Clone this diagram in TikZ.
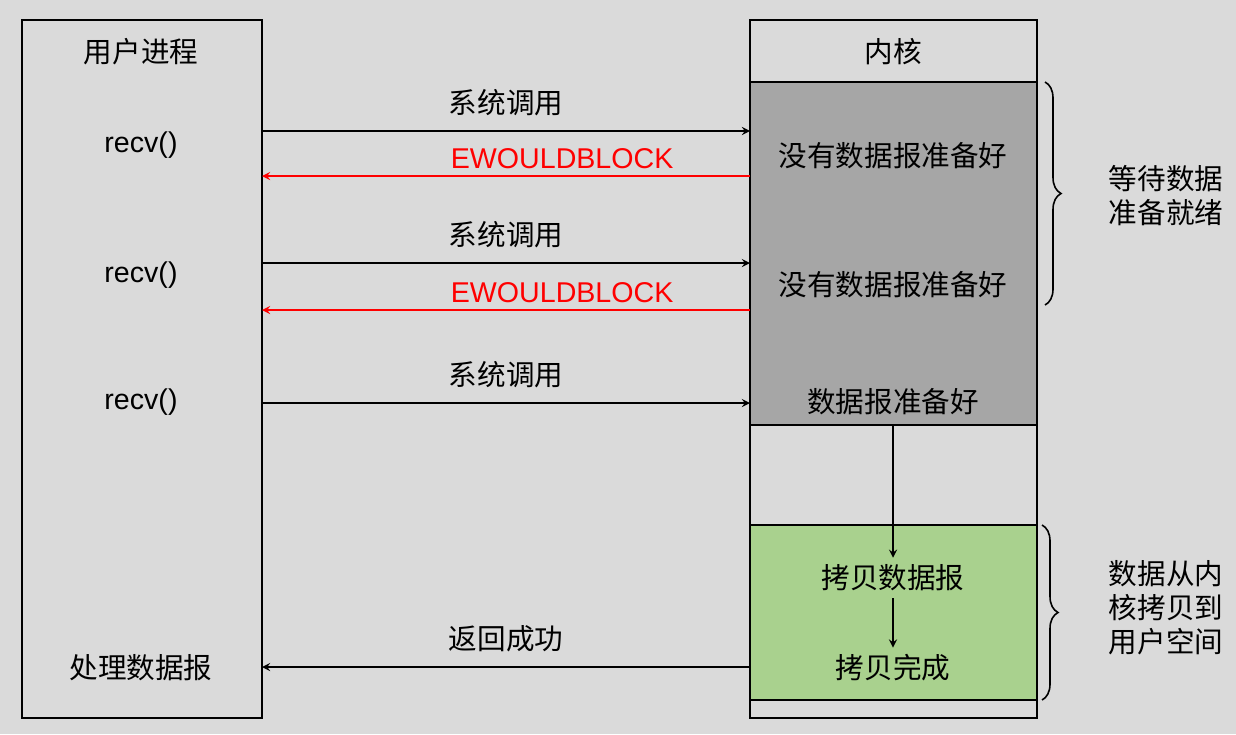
\documentclass[tikz,border=0pt]{standalone}
\usepackage{fontspec}
\setmainfont{Noto Sans CJK SC}
\newfontfamily\latin{Liberation Sans}
\usetikzlibrary{arrows,positioning,decorations.pathreplacing}
\definecolor{bggray}{HTML}{DADADA}
\definecolor{waitgray}{HTML}{A6A6A6}
\definecolor{copygreen}{HTML}{A9D18E}
\tikzset{
    >=stealth,
    lbl/.style={font=\fontsize{14.3}{17}\selectfont, align=center},
    lat/.style={font=\fontsize{14.3}{17}\selectfont\latin},
    call/.style={thick, ->, >=stealth},
    err/.style={thick, ->, >=stealth, red},
    box/.style={draw, thick},
}
\begin{document}
\begin{tikzpicture}[x=0.5pt, y=-0.5pt]
    % Rahmen
    \fill[bggray] (0,0) rectangle (1236,734);
    \useasboundingbox (0,0) rectangle (1236,734);
    \fill[waitgray] (750,82) rectangle (1037,425);
    \fill[copygreen] (750,525) rectangle (1037,700);
    \draw[box] (22,20) rectangle (262,718);
    \draw[box] (750,20) rectangle (1037,718);
    \draw[thick] (750,82) -- (1037,82);
    \draw[thick] (750,425) -- (1037,425);
    \draw[thick] (750,525) -- (1037,525);
    \draw[thick] (750,700) -- (1037,700);

    % Texte
    \node[lbl] (user) at (141,52) {用户进程};
    \node[lbl] (kern) at (893,52) {内核};
    \node[lat] (r1) at (141,145) {recv()};
    \node[lat] (r2) at (141,275) {recv()};
    \node[lat] (r3) at (141,402) {recv()};
    \node[lbl] (proc) at (141,668) {处理数据报};
    \node[lbl] (nd1) at (893,156) {没有数据报准备好};
    \node[lbl] (nd2) at (893,285) {没有数据报准备好};
    \node[lbl] (rdy) at (893,402) {数据报准备好};
    \node[lbl] (cp) at (893,578) {拷贝数据报};
    \node[lbl] (done) at (893,668) {拷贝完成};
    \node[lbl] (wait) at (1166,196) {等待数据\\准备就绪};
    \node[lbl] (copy) at (1166,608) {数据从内\\核拷贝到\\用户空间};

    % Pfeile
    \foreach \y/\t in {131/s1, 263/s2, 403/s3} {
        \coordinate (\t a) at (262,\y);
        \coordinate (\t b) at (750,\y);
        \draw[call] (\t a) -- (\t b) node[lbl, midway, above=4pt] {系统调用};
    }
    \foreach \y/\t in {176/e1, 310/e2} {
        \coordinate (\t a) at (750,\y);
        \coordinate (\t b) at (262,\y);
        \draw[err] (\t a) -- (\t b) node[lat, red, pos=0.385, above=0pt] {EWOULDBLOCK};
    }
    \coordinate (oka) at (750,667);
    \coordinate (okb) at (262,667);
    \draw[call] (oka) -- (okb) node[lbl, midway, above=4pt] {返回成功};
    \coordinate (rdyb) at (893,425);
    \draw[call] (rdyb) -- (cp.north);
    \draw[call] (cp.south) -- (done.north);

    % Klammern
    \draw[thick, decorate, decoration={brace, amplitude=8pt}] (1045,82) -- (1045,305);
    \draw[thick, decorate, decoration={brace, amplitude=8pt}] (1042,525) -- (1042,700);
\end{tikzpicture}
\end{document}
